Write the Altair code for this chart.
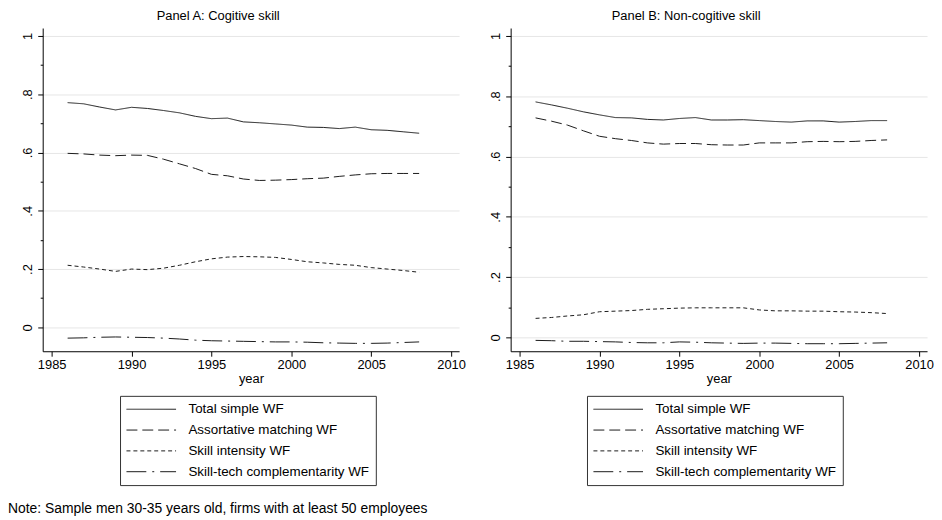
import altair as alt
import pandas as pd

years = list(range(1986, 2009))
series_names = ["Total simple WF", "Assortative matching WF",
                "Skill intensity WF", "Skill-tech complementarity WF"]

a_total = [0.771, 0.767, 0.756, 0.746, 0.755, 0.751, 0.744, 0.736, 0.724, 0.716, 0.718, 0.705,
           0.702, 0.698, 0.694, 0.687, 0.686, 0.682, 0.687, 0.678, 0.676, 0.671, 0.666]
a_assort = [0.597, 0.595, 0.591, 0.589, 0.591, 0.590, 0.577, 0.561, 0.545, 0.525, 0.520, 0.509,
            0.504, 0.505, 0.507, 0.510, 0.512, 0.518, 0.523, 0.527, 0.528, 0.528, 0.528]
a_intens = [0.213, 0.207, 0.200, 0.192, 0.200, 0.198, 0.203, 0.213, 0.225, 0.235, 0.241, 0.243,
            0.242, 0.240, 0.233, 0.225, 0.221, 0.216, 0.213, 0.205, 0.200, 0.195, 0.189]
a_tech = [-0.037, -0.036, -0.034, -0.033, -0.034, -0.035, -0.037, -0.040, -0.044, -0.046, -0.047,
          -0.048, -0.049, -0.050, -0.050, -0.051, -0.053, -0.054, -0.055, -0.055, -0.054, -0.052, -0.050]

b_total = [0.781, 0.771, 0.760, 0.748, 0.738, 0.729, 0.728, 0.723, 0.721, 0.726, 0.729, 0.721,
           0.721, 0.722, 0.719, 0.716, 0.714, 0.718, 0.718, 0.714, 0.716, 0.719, 0.719]
b_assort = [0.728, 0.717, 0.704, 0.685, 0.667, 0.659, 0.653, 0.645, 0.641, 0.643, 0.643, 0.639,
            0.638, 0.638, 0.645, 0.645, 0.645, 0.649, 0.650, 0.649, 0.650, 0.653, 0.655]
b_intens = [0.063, 0.066, 0.071, 0.075, 0.085, 0.087, 0.089, 0.093, 0.095, 0.097, 0.098, 0.098,
            0.098, 0.098, 0.091, 0.088, 0.088, 0.087, 0.087, 0.085, 0.084, 0.082, 0.079]
b_tech = [-0.010, -0.011, -0.013, -0.013, -0.014, -0.015, -0.017, -0.018, -0.018, -0.015, -0.016,
          -0.018, -0.019, -0.020, -0.019, -0.019, -0.020, -0.021, -0.021, -0.021, -0.020, -0.019, -0.018]

x_ticks = [1985, 1990, 1995, 2000, 2005, 2010]
y_ticks = [0, 0.1, 0.2, 0.3, 0.4, 0.5, 0.6, 0.7, 0.8, 0.9, 1]
dashes = [[1, 0], [11, 5], [4, 3], [20, 6, 2, 6]]

FONT = "Liberation Sans"
LINE = "#1a1a1a"


def long_df(cols):
    rows = []
    for name, vals in zip(series_names, cols):
        for yr, v in zip(years, vals):
            rows.append({"year": yr, "value": v, "series": name})
    return pd.DataFrame(rows)


major = "round(datum.value * 10) % 2 == 0"
label_expr = ("round(datum.value * 10) % 2 != 0 ? '' : datum.value == 0 ? '0' : "
              "datum.value == 1 ? '1' : replace(format(datum.value, '.1f'), '0.', '.')")


def panel(df, title, ydom, lx, ly):
    return alt.Chart(df).mark_line(strokeWidth=1, color=LINE).encode(
        x=alt.X("year:Q",
                scale=alt.Scale(domain=[1984.44, 2010.5], nice=False, zero=False),
                axis=alt.Axis(values=x_ticks, format="d", title="year", grid=False,
                              tickSize=5, labelPadding=2, titlePadding=2,
                              labelFlush=False, labelOverlap=False)),
        y=alt.Y("value:Q",
                scale=alt.Scale(domain=ydom, nice=False, zero=False),
                axis=alt.Axis(values=y_ticks, title=None, labelExpr=label_expr,
                              labelAngle=270, labelAlign="center", labelBaseline="alphabetic",
                              labelPadding=6, labelFlush=False, labelOverlap=False,
                              tickSize={"condition": {"test": major, "value": 5}, "value": 2.5},
                              grid=True,
                              gridOpacity={"condition": {"test": major, "value": 1}, "value": 0},
                              minExtent=23, maxExtent=23)),
        strokeDash=alt.StrokeDash(
            "series:N",
            scale=alt.Scale(domain=series_names, range=dashes),
            sort=series_names,
            legend=alt.Legend(orient="none", legendX=lx, legendY=ly, direction="vertical",
                              title=None, strokeColor="#333333", fillColor="white", padding=6,
                              symbolType="stroke", symbolSize=2500, symbolStrokeWidth=1,
                              symbolStrokeColor=LINE, labelFont=FONT, labelFontSize=13.5,
                              labelColor="black", labelOffset=12, rowPadding=6, clipHeight=15,
                              labelLimit=400)),
    ).properties(
        width=420, height=326,
        title=alt.TitleParams(title, fontSize=13, font=FONT, fontWeight="normal", color="black",
                              anchor="middle", frame="group", dx=-33, offset=5),
    )


pa = panel(long_df([a_total, a_assort, a_intens, a_tech]), "Panel A: Cogitive skill",
           [-0.082, 1.027], 78, 371)
pb = panel(long_df([b_total, b_assort, b_intens, b_tech]), "Panel B: Non-cogitive skill",
           [-0.046, 1.026], 77, 371)

chart = alt.hconcat(pa, pb, spacing=52, bounds="flush").resolve_scale(
    x="independent", y="independent", strokeDash="independent"
).resolve_legend(strokeDash="independent").properties(
    padding={"left": 0, "top": 0, "right": 0, "bottom": 0},
    title=alt.TitleParams("Note: Sample men 30-35 years old, firms with at least 50 employees",
                          orient="bottom", anchor="start", frame="bounds", dx=-12, offset=17,
                          fontSize=14, font=FONT, fontWeight="normal", color="black"),
).configure_view(stroke=None).configure_axis(
    labelFont=FONT, labelFontSize=13, labelColor="black", titleFont=FONT, titleFontSize=13,
    titleFontWeight="normal", titleColor="black", domainColor="black", tickColor="black",
    domainWidth=1, tickWidth=1, gridColor="#e6e6e6", gridWidth=1,
)

chart.save("out.html", embed_options={"renderer": "svg", "actions": False})
